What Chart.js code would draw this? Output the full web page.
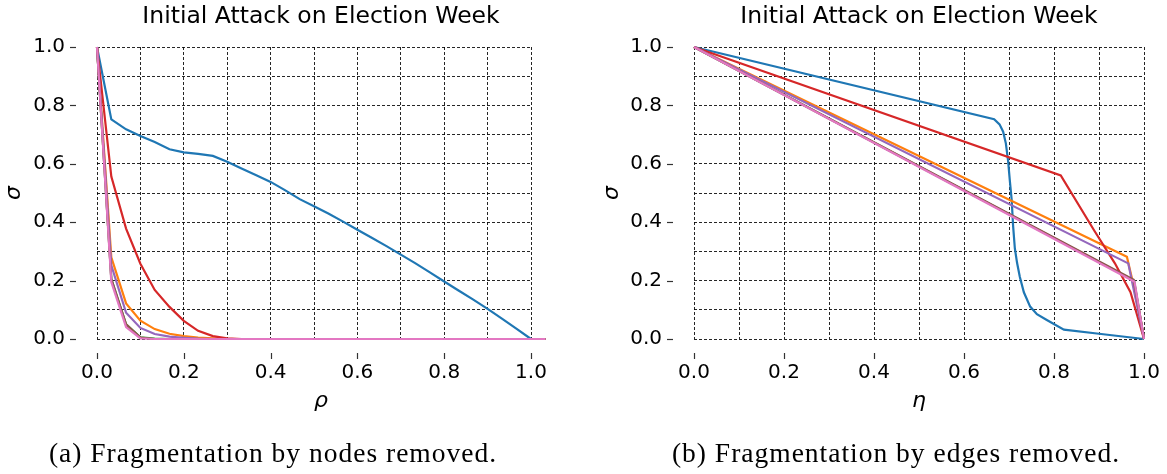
<!DOCTYPE html>
<html>
<head>
<meta charset="utf-8">
<script src="https://cdn.jsdelivr.net/npm/chart.js@4.4.1/dist/chart.umd.min.js"></script>
<style>
  html, body { margin: 0; padding: 0; background: #fff; }
  body { width: 1167px; height: 474px; position: relative; overflow: hidden; }
  canvas { position: absolute; top: 0; }
  #cL { left: 0; }
  #cR { left: 580px; }
</style>
</head>
<body>
<canvas id="cL" width="580" height="474"></canvas>
<canvas id="cR" width="587" height="474"></canvas>
<script>
// ---------- DATA ----------
const tickLabels = ['0.0', '0.2', '0.4', '0.6', '0.8', '1.0'];
const tickValues = [0, 0.2, 0.4, 0.6, 0.8, 1.0];

const titleText = 'Initial Attack on Election Week';
const captionA = '(a) Fragmentation by nodes removed.';
const captionB = '(b) Fragmentation by edges removed.';

const seriesColors = ['#1f77b4', '#ff7f0e', '#2ca02c', '#d62728', '#9467bd', '#8c564b', '#e377c2'];

// (a) nodes removed: rho values
const rhoX = [0, 0.033, 0.067, 0.1, 0.133, 0.167, 0.2, 0.233, 0.267, 0.3, 0.333, 0.367, 0.4, 0.433, 0.467,
  0.5, 0.533, 0.567, 0.6, 0.633, 0.667, 0.7, 0.733, 0.767, 0.8, 0.833, 0.867, 0.9, 0.933, 0.967, 1.0, 1.033];
const nodesBlue = [1.0, 0.752, 0.718, 0.695, 0.675, 0.65, 0.639, 0.634, 0.627, 0.607, 0.584, 0.561, 0.538, 0.51,
  0.479, 0.455, 0.43, 0.402, 0.374, 0.347, 0.318, 0.289, 0.26, 0.228, 0.197, 0.166, 0.135, 0.103, 0.07, 0.035, 0.0];
const nodesOrange = [1.0, 0.28, 0.122, 0.063, 0.034, 0.018, 0.01, 0.005, 0.002, 0, 0, 0, 0, 0, 0, 0, 0, 0, 0, 0,
  0, 0, 0, 0, 0, 0, 0, 0, 0, 0, 0, 0];
const nodesGreen = [1.0, 0.205, 0.05, 0.006, 0.001, 0, 0, 0, 0, 0, 0, 0, 0, 0, 0, 0, 0, 0, 0, 0,
  0, 0, 0, 0, 0, 0, 0, 0, 0, 0, 0, 0];
const nodesRed = [1.0, 0.556, 0.378, 0.258, 0.168, 0.11, 0.062, 0.028, 0.01, 0.002, 0, 0, 0, 0, 0, 0, 0, 0, 0, 0,
  0, 0, 0, 0, 0, 0, 0, 0, 0, 0, 0, 0];
const nodesPurple = [1.0, 0.252, 0.09, 0.038, 0.017, 0.008, 0.004, 0.001, 0, 0, 0, 0, 0, 0, 0, 0, 0, 0, 0, 0,
  0, 0, 0, 0, 0, 0, 0, 0, 0, 0, 0, 0];
const nodesBrown = [1.0, 0.205, 0.05, 0.005, 0, 0, 0, 0, 0, 0, 0, 0, 0, 0, 0, 0, 0, 0, 0, 0,
  0, 0, 0, 0, 0, 0, 0, 0, 0, 0, 0, 0];
const nodesPink = [1.0, 0.195, 0.041, 0.002, 0, 0, 0, 0, 0, 0, 0, 0, 0, 0, 0, 0, 0, 0, 0, 0,
  0, 0, 0, 0, 0, 0, 0, 0, 0, 0, 0, 0];

// (b) edges removed: eta values
const edgeBlueX = [0, 0.667, 0.679, 0.687, 0.693, 0.698, 0.702, 0.706, 0.709, 0.713, 0.718, 0.724, 0.733, 0.747, 0.762, 0.784, 0.822, 0.9, 1.0];
const edgeBlueY = [1.0, 0.753, 0.735, 0.71, 0.67, 0.61, 0.54, 0.476, 0.39, 0.31, 0.26, 0.213, 0.16, 0.111, 0.085, 0.065, 0.032, 0.018, 0.0];
const edgeOrangeX = [0, 0.962, 0.985, 1.0];
const edgeOrangeY = [1.0, 0.282, 0.13, 0.0];
const edgeGreenX = [0, 0.978, 1.0];
const edgeGreenY = [1.0, 0.2, 0.0];
const edgeRedX = [0, 0.815, 0.89, 0.935, 0.97, 1.0];
const edgeRedY = [1.0, 0.56, 0.37, 0.26, 0.16, 0.0];
const edgePurpleX = [0, 0.965, 1.0];
const edgePurpleY = [1.0, 0.259, 0.0];
const edgeBrownX = [0, 0.977, 1.0];
const edgeBrownY = [1.0, 0.203, 0.0];
const edgePinkX = [0, 0.979, 1.0];
const edgePinkY = [1.0, 0.196, 0.0];

// ---------- HELPERS ----------
function pairs(xs, ys) { return ys.map((y, i) => ({ x: xs[i], y: y })); }

function tickText(v) {
  const s = v.toFixed(1);
  return (tickLabels.includes(s) && Math.abs(v * 5 - Math.round(v * 5)) < 1e-6) ? s : '';
}

const figText = {
  id: 'figText',
  afterDraw(chart, args, o) {
    const ctx = chart.ctx, a = chart.chartArea;
    const xs = chart.scales.x, ys = chart.scales.y;
    ctx.save();
    ctx.strokeStyle = '#333';
    ctx.lineWidth = 1.2;
    tickValues.forEach(v => {
      const px = Math.round(xs.getPixelForValue(v)) + 0.5;
      ctx.beginPath(); ctx.moveTo(px, a.bottom + 14); ctx.lineTo(px, a.bottom + 20); ctx.stroke();
      const py = Math.round(ys.getPixelForValue(v)) + 0.5;
      ctx.beginPath(); ctx.moveTo(a.left - 27, py); ctx.lineTo(a.left - 21, py); ctx.stroke();
    });
    ctx.fillStyle = '#000';
    ctx.textAlign = 'center';
    ctx.textBaseline = 'middle';
    ctx.font = '23.5px "DejaVu Sans"';
    ctx.fillText(o.title, o.centerX, 17);
    ctx.font = 'italic 22px "DejaVu Sans"';
    ctx.fillText(o.xLabel, o.centerX, 401);
    ctx.save();
    ctx.translate(o.yLabelX, (a.top + a.bottom) / 2);
    ctx.rotate(-Math.PI / 2);
    ctx.fillText(o.yLabel, 0, 0);
    ctx.restore();
    ctx.font = '27.5px "Liberation Serif"';
    ctx.letterSpacing = '1px';
    ctx.fillText(o.caption, o.captionX, 455);
    ctx.restore();
  }
};

function makeChart(id, datasets, cfg) {
  const font = { family: 'DejaVu Sans', size: 20 };
  return new Chart(document.getElementById(id), {
    type: 'line',
    data: { datasets: datasets },
    plugins: [figText],
    options: {
      responsive: false,
      animation: false,
      devicePixelRatio: 1,
      layout: { padding: { left: 0, top: 47, right: cfg.padRight, bottom: 54 } },
      elements: { point: { radius: 0 }, line: { tension: 0, borderWidth: 2.2 } },
      plugins: {
        legend: { display: false },
        tooltip: { enabled: false },
        title: { display: false },
        figText: cfg.text
      },
      scales: {
        x: {
          type: 'linear',
          border: { display: false, dash: [3, 2] },
          grid: { color: 'rgba(0,0,0,0.85)', lineWidth: 1, drawTicks: false },
          ticks: {
            stepSize: 0.1, autoSkip: false, maxRotation: 0, padding: 22, color: '#000', font: font,
            callback: v => tickText(v)
          },
          afterDataLimits: s => { s.min = 0; s.max = 1; },
          afterFit: s => { s.height = 81; s.paddingLeft = 0; s.paddingRight = 0; }
        },
        y: {
          type: 'linear', min: 0, max: 1,
          border: { display: false, dash: [3, 2] },
          grid: { color: 'rgba(0,0,0,0.85)', lineWidth: 1, drawTicks: false },
          ticks: {
            stepSize: 0.1, autoSkip: false, padding: 32, color: '#000', font: font,
            callback: v => tickText(v)
          },
          afterFit: s => { s.width = cfg.yWidth; }
        }
      }
    }
  });
}

function ds(data, color, order) {
  return { data: data, borderColor: color, backgroundColor: color, borderWidth: 2.2, fill: false,
           order: order, clip: false, pointRadius: 0 };
}

// ---------- LEFT: nodes removed ----------
const leftSets = [
  ds(pairs(rhoX, nodesBlue), seriesColors[0], 6),
  ds(pairs(rhoX, nodesOrange), seriesColors[1], 5),
  ds(pairs(rhoX, nodesGreen), seriesColors[2], 4),
  ds(pairs(rhoX, nodesRed), seriesColors[3], 3),
  ds(pairs(rhoX, nodesPurple), seriesColors[4], 2),
  ds(pairs(rhoX, nodesBrown), seriesColors[5], 1),
  ds(pairs(rhoX, nodesPink), seriesColors[6], 0)
];
makeChart('cL', leftSets, {
  padRight: 49, yWidth: 97,
  text: { title: titleText, xLabel: 'ρ', yLabel: 'σ', centerX: 321, yLabelX: 14, caption: captionA, captionX: 273 }
});

// ---------- RIGHT: edges removed ----------
const rightSets = [
  ds(pairs(edgeBlueX, edgeBlueY), seriesColors[0], 6),
  ds(pairs(edgeOrangeX, edgeOrangeY), seriesColors[1], 5),
  ds(pairs(edgeGreenX, edgeGreenY), seriesColors[2], 4),
  ds(pairs(edgeRedX, edgeRedY), seriesColors[3], 3),
  ds(pairs(edgePurpleX, edgePurpleY), seriesColors[4], 2),
  ds(pairs(edgeBrownX, edgeBrownY), seriesColors[5], 1),
  ds(pairs(edgePinkX, edgePinkY), seriesColors[6], 0)
];
makeChart('cR', rightSets, {
  padRight: 23, yWidth: 114,
  text: { title: titleText, xLabel: 'η', yLabel: 'σ', centerX: 339, yLabelX: 32, caption: captionB, captionX: 316 }
});
</script>
</body>
</html>
